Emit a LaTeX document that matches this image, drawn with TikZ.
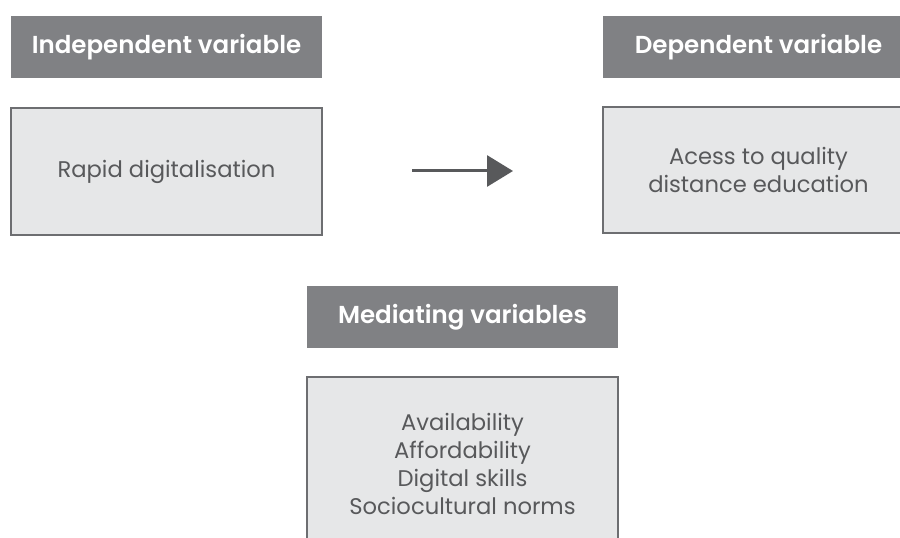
\documentclass[tikz,border=0pt]{standalone}
\usepackage{fontspec}
\setmainfont{Poppins}[BoldFont={Poppins SemiBold}]
\usetikzlibrary{arrows.meta}
\definecolor{hdrfill}{HTML}{808184}
\definecolor{boxfill}{HTML}{E6E7E8}
\definecolor{boxline}{HTML}{6D6E71}
\definecolor{txt}{HTML}{58595B}
\definecolor{arr}{HTML}{58595B}
\tikzset{
  hdr/.style={fill=hdrfill, text=white, font=\bfseries\fontsize{18.4}{21}\selectfont,
    minimum width=311*0.75pt, minimum height=62*0.75pt, inner sep=0pt, align=center},
  varbox/.style={fill=boxfill, draw=boxline, line width=1.3pt, text=txt,
    font=\fontsize{17}{21}\selectfont, minimum width=311*0.75pt, inner sep=0pt, align=center},
}
\begin{document}
\begin{tikzpicture}[x=0.75pt, y=-0.75pt]
\useasboundingbox (0,0) rectangle (900,538);
\clip (0,0) rectangle (900,538);
\fill[white] (0,0) rectangle (900,538);
\node[hdr] (h1) at (166.5,47) {Independent variable};
\node[varbox, minimum height=127*0.75pt] (b1) at (166.5,171.5) {Rapid digitalisation};
\node[hdr] (h2) at (758.5,47) {Dependent variable};
\node[varbox, minimum height=126*0.75pt] (b2) at (758.5,170) {Acess to quality\\distance education};
\node[hdr] (h3) at (462.5,317) {Mediating variables};
\node[varbox, minimum height=173*0.75pt] (b3) at (462.5,463.5) {Availability\\Affordability\\Digital skills\\Sociocultural norms};
\coordinate (a1) at (412,171);
\coordinate (a2) at (513,171);
\draw[arr, line width=3*0.75pt, -{Triangle[length=26*0.75pt, width=31*0.75pt]}] (a1) -- (a2);
\end{tikzpicture}
\end{document}
